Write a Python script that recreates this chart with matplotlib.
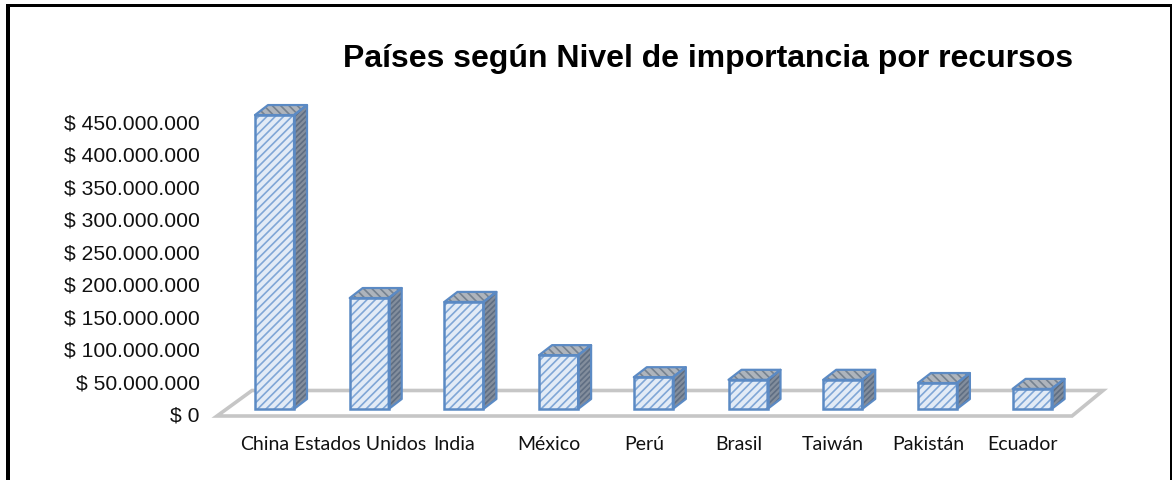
import numpy as np
import matplotlib
matplotlib.use("Agg")
import matplotlib.pyplot as plt
from matplotlib.patches import Polygon, Rectangle

paises = ["China", "Estados Unidos", "India", "México", "Perú", "Brasil", "Taiwán", "Pakistán", "Ecuador"]
recursos = [453e6, 171e6, 165e6, 83e6, 49e6, 45e6, 45e6, 40e6, 31e6]
ticks = [0, 50e6, 100e6, 150e6, 200e6, 250e6, 300e6, 350e6, 400e6, 450e6]
titulo = "Países según Nivel de importancia por recursos"

W, H = 1173, 481
px_x = 94.7          # pixels per category
px_y = 292 / 450e6   # pixels per peso

fig = plt.figure(figsize=(W / 100, H / 100), dpi=100, facecolor="white")

# axes box: zero sits at y=414, category 0 at x=274.5
left, right, bottom, top = 217, 1103, 414, 100
ax = fig.add_axes([left / W, 1 - bottom / H, (right - left) / W, (bottom - top) / H])
ax.set_xlim((left - 274.5) / px_x, (right - 274.5) / px_x)
ax.set_ylim(0, (bottom - top) / px_y)
ax.patch.set_alpha(0)
for s in ax.spines.values():
    s.set_visible(False)

# pseudo 3D sizes, expressed in data units
ancho = 39 / px_x
dx = 13 / px_x
dy = 10 / px_y
base = 4 / px_y

# floor
y0 = -3 / px_y
y1 = 22.5 / px_y
x_fin = (1072 - 274.5) / px_x
x_ini = (217 - 274.5) / px_x
x_atras = (252 - 274.5) / px_x
x_atras2 = (1103 - 274.5) / px_x
piso = Polygon([(x_ini, y0), (x_fin, y0), (x_atras2, y1), (x_atras, y1)], closed=True,
               fill=False, edgecolor="#c6c6c6", linewidth=2.6, clip_on=False, zorder=1)
ax.add_patch(piso)

azul = "#5b8ac4"
plt.rcParams["hatch.linewidth"] = 1.2

x = np.arange(len(paises))
ax.bar(x, recursos, width=ancho, bottom=base, facecolor="#e2ebf6", edgecolor="#7fa6d6",
       hatch="////", linewidth=0, zorder=3)
ax.bar(x, recursos, width=ancho, bottom=base, fill=False, edgecolor=azul, linewidth=1.8, zorder=5)

for xi, v in zip(x, recursos):
    xl = xi - ancho / 2
    xr = xi + ancho / 2
    yb = base
    yt = base + v
    lado = Polygon([(xr, yb), (xr + dx, yb + dy), (xr + dx, yt + dy), (xr, yt)], closed=True,
                   facecolor="#838e9d", edgecolor="#5f6e83", hatch="//////", linewidth=0, zorder=3, clip_on=False)
    tapa = Polygon([(xl, yt), (xr, yt), (xr + dx, yt + dy), (xl + dx, yt + dy)], closed=True,
                   facecolor="#aeb4bc", edgecolor="#76828f", hatch="\\\\\\\\", linewidth=0, zorder=3, clip_on=False)
    ax.add_patch(lado)
    ax.add_patch(tapa)
    for p in (lado, tapa):
        ax.add_patch(Polygon(p.get_xy(), closed=True, fill=False, edgecolor=azul, linewidth=1.6,
                             zorder=4, clip_on=False, joinstyle="round"))

ax.set_yticks(ticks)
ax.set_yticklabels(["$ 0" if t == 0 else "$ " + f"{int(t):,}".replace(",", ".") for t in ticks],
                   family="Liberation Sans", fontsize=15.2, color="#111111")
ax.tick_params(axis="y", length=0, pad=12.5)

# category labels sit a little left of the front faces
ax.set_xticks(x - 0.1)
ax.set_xticklabels(paises, family="Lato", fontsize=14, color="#111111")
ax.tick_params(axis="x", length=0, pad=16)

fig.text(708 / W, 1 - 59.5 / H, titulo, family="Liberation Sans", fontweight="bold", fontsize=23,
         ha="center", va="center", color="black")

# black frame, open at the bottom
negro = dict(facecolor="black", edgecolor="none", transform=fig.transFigure)
fig.add_artist(Rectangle((6 / W, 0), 4 / W, 1 - 5 / H, **negro))
fig.add_artist(Rectangle((6 / W, 1 - 8 / H), 1166 / W, 3 / H, **negro))
fig.add_artist(Rectangle((1170 / W, 0), 2 / W, 1 - 5 / H, **negro))

fig.savefig("out.png", dpi=100)
